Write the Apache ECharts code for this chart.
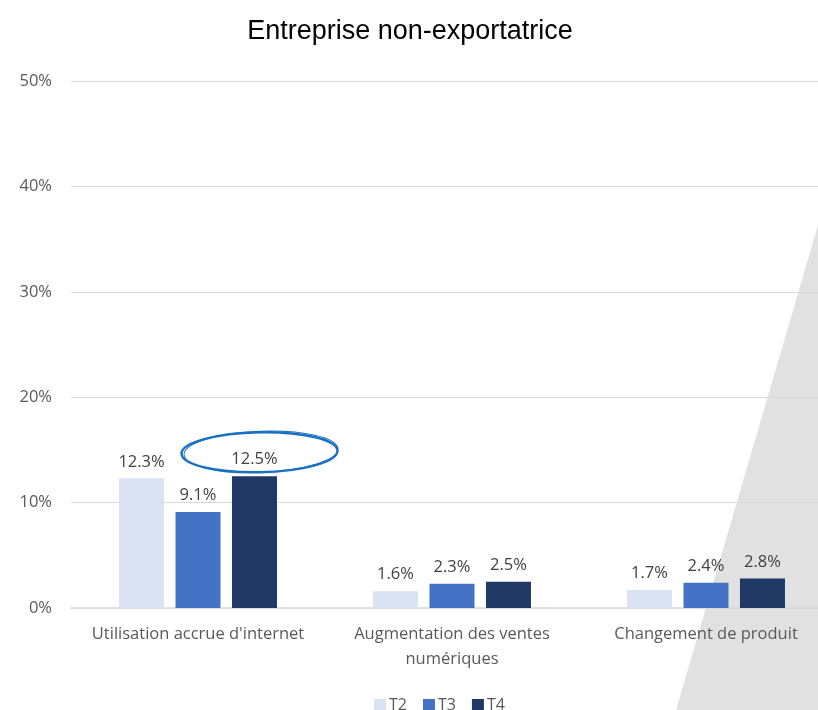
<!DOCTYPE html>
<html><head><meta charset="utf-8">
<script src="https://cdn.jsdelivr.net/npm/echarts@6/dist/echarts.min.js"></script>
<style>html,body{margin:0;padding:0;background:#fff;overflow:hidden;width:818px;height:710px}#c{width:833px;height:710px}</style>
</head><body><div id="c"></div>
<script>
const categories = ["Utilisation accrue d'internet", "Augmentation des ventes\nnumériques", "Changement de produit"];
const seriesNames = ["T2", "T3", "T4"];
const T2 = [12.3, 1.6, 1.7];
const T3 = [9.1, 2.3, 2.4];
const T4 = [12.5, 2.5, 2.8];
const yTicks = [0, 10, 20, 30, 40, 50];
const colors = ["#dae3f3", "#4472c4", "#203864"];
const FONT = "Open Sans";

const chart = echarts.init(document.getElementById('c'), null, {renderer: 'canvas'});
const mk = (name, data, i) => ({
  name, type: 'bar', data, barWidth: 45, barGap: '25.5%', barCategoryGap: '38%',
  itemStyle: {color: colors[i]},
  label: {show: true, position: 'top', distance: 8, formatter: p => p.value.toFixed(1) + '%',
    color: '#404040', fontSize: 16.5, fontFamily: FONT},
  z: 3
});
const triangle = {type: 'polygon', z: -10, silent: true,
  shape: {points: [[818, 225], [818, 710], [676, 710]]},
  style: {fill: '#e1e1e1'}};
chart.setOption({
  animation: false,
  title: {text: 'Entreprise non-exportatrice', left: 405, top: 13, textAlign: 'center',
    textStyle: {fontFamily: 'Liberation Sans', fontSize: 27, fontWeight: 'normal', color: '#000'}},
  grid: {left: 71, right: 0, top: 81, bottom: 102},
  legend: {data: seriesNames, left: 369, top: 692, itemWidth: 12, itemHeight: 12, itemGap: 16,
    icon: 'rect', textStyle: {fontFamily: FONT, fontSize: 16, color: '#595959', padding: [0,0,0,-2]}},
  xAxis: {type: 'category', data: categories,
    axisLine: {lineStyle: {color: '#d9d9d9', width: 1.5}}, axisTick: {show: false},
    axisLabel: {interval: 0, margin: 14, fontFamily: FONT, fontSize: 16.5, color: '#595959', lineHeight: 25}},
  yAxis: {type: 'value', min: yTicks[0], max: yTicks[yTicks.length-1], interval: 10,
    axisLine: {show: false}, axisTick: {show: false},
    splitLine: {lineStyle: {color: '#d9d9d9', width: 1.2}},
    axisLabel: {formatter: v => v + '%', margin: 19, fontFamily: FONT, fontSize: 16.5, color: '#595959'}},
  series: [mk('T2', T2, 0), mk('T3', T3, 1), mk('T4', T4, 2)],
  graphic: [triangle]
});

// Hand-drawn style ellipse around the highlighted label (T4, first category)
const lay = chart.getModel().getSeriesByIndex(2).getData().getItemLayout(0);
const barTop = Math.min(lay.y, lay.y + lay.height);
const cx = lay.x + lay.width / 2 + 5;
const cy = barTop - 24;
chart.setOption({graphic: [
  triangle,
  {type: 'ellipse', z: 10, silent: true, x: cx, y: cy, rotation: 0.02,
    shape: {cx: 0, cy: 0, rx: 78, ry: 20},
    style: {fill: 'none', stroke: '#1a70c0', lineWidth: 2.4}},
  {type: 'ellipse', z: 10, silent: true, x: cx + 1.5, y: cy - 0.5, rotation: 0.035,
    shape: {cx: 0, cy: 0, rx: 77, ry: 20.5},
    style: {fill: 'none', stroke: '#1a70c0', lineWidth: 1}}
]});
</script></body></html>
